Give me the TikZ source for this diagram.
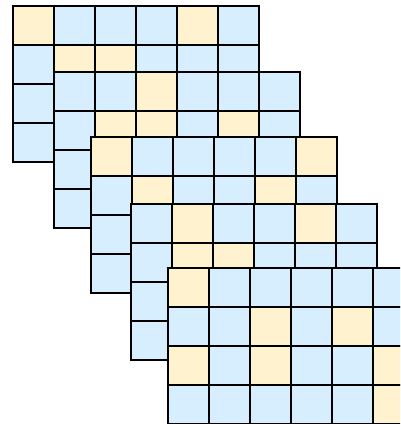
\documentclass[tikz,border=0pt]{standalone}
\definecolor{cellblue}{RGB}{215,238,255}
\definecolor{cellyel}{RGB}{255,242,207}
\tikzset{
  cellbox/.style={draw=black, line width=2pt},
}
\begin{document}
\begin{tikzpicture}[x=1pt,y=-1pt]
\useasboundingbox (0,0) rectangle (400,424);
\clip (0,0) rectangle (400,424);
% grid origins and colour patterns (Y = yellow, B = blue), rows top to bottom
\foreach \gx/\gy/\pat in {
  13/6/{Y,B,B,B,Y,B, B,Y,Y,B,B,B, B,B,B,B,B,B, B,B,B,B,B,B},
  54/72/{B,B,Y,B,B,B, B,Y,Y,B,Y,B, B,B,B,B,B,B, B,B,B,B,B,B},
  91/137/{Y,B,B,B,B,Y, B,Y,B,B,Y,B, B,B,B,B,B,B, B,B,B,B,B,B},
  131/204/{B,Y,B,B,Y,B, B,Y,Y,B,B,B, B,B,B,B,B,B, B,B,B,B,B,B},
  168/268/{Y,B,B,B,B,B, B,B,Y,B,Y,B, Y,B,Y,B,B,Y, B,B,B,B,B,Y}}
{
  \foreach \c [count=\i from 0] in \pat {
    \pgfmathtruncatemacro{\col}{mod(\i,6)}
    \pgfmathtruncatemacro{\row}{div(\i,6)}
    \if\c Y\def\fc{cellyel}\else\def\fc{cellblue}\fi
    \filldraw[cellbox, fill=\fc] (\gx+\col*41, \gy+\row*39) rectangle ++(41,39);
  }
}
\end{tikzpicture}
\end{document}
